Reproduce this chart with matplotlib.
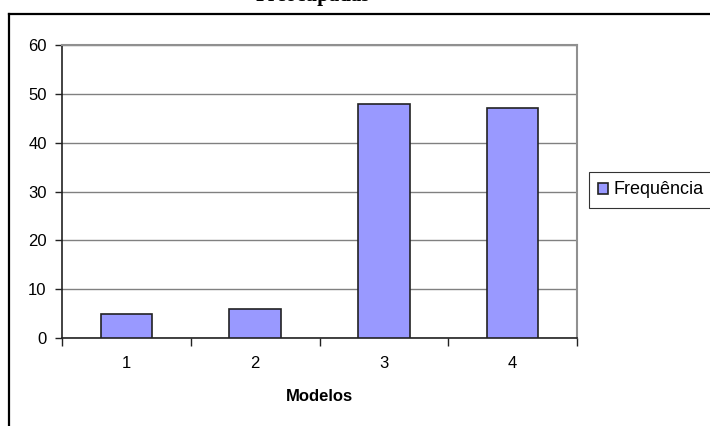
import matplotlib.pyplot as plt
from matplotlib.lines import Line2D

modelos = ['1', '2', '3', '4']
frequencia = [5, 6, 48, 47]
y_ticks = [0, 10, 20, 30, 40, 50, 60]

plt.rcParams['font.family'] = ['Liberation Sans', 'DejaVu Sans']

W, H = 710, 426
fig = plt.figure(figsize=(W / 100, H / 100), dpi=100)

# plot area in pixels: left 62, right 577, top 45, bottom 338
ax = fig.add_axes([62 / W, 1 - 338 / H, (577 - 62) / W, (338 - 45) / H])

x = range(len(modelos))
bars = ax.bar(x, frequencia, width=0.4, color='#9999FF', edgecolor='#222222',
              linewidth=1.2, label='Frequência', zorder=3)

ax.set_xlim(-0.5, len(modelos) - 0.5)
ax.set_ylim(0, 60)
ax.set_yticks(y_ticks)
ax.yaxis.grid(True, color='#808080', linewidth=1.0, zorder=0)

# category ticks sit between the bars, labels stay centred under them
ax.set_xticks([i + 0.5 for i in range(-1, len(modelos))])
ax.set_xticklabels([])
ax.set_xticks(list(x), minor=True)
ax.set_xticklabels(modelos, minor=True)
ax.tick_params(axis='x', which='major', direction='out', length=6, width=1,
               color='#222222')
ax.tick_params(axis='x', which='minor', length=0, pad=13, labelsize=12)
ax.tick_params(axis='y', direction='out', length=5, width=1, color='#222222',
               labelsize=12, pad=6)

for side in ['left', 'bottom']:
    ax.spines[side].set_color('#222222')
    ax.spines[side].set_linewidth(1.2)
for side in ['top', 'right']:
    ax.spines[side].set_color('#909090')
    ax.spines[side].set_linewidth(1.5)

ax.set_xlabel('Modelos', fontsize=12, fontweight='bold', labelpad=13)

leg = fig.legend(handles=[bars], loc='center left',
                 bbox_to_anchor=(589 / W, 1 - 190 / H), fontsize=13,
                 frameon=True, fancybox=False, edgecolor='black',
                 handlelength=0.55, handleheight=0.55, handletextpad=0.3,
                 borderpad=0.5, borderaxespad=0)
leg.get_frame().set_linewidth(0.8)

# outer chart border (top and left edges visible)
fig.add_artist(Line2D([9 / W, 1], [1 - 14 / H, 1 - 14 / H], color='black',
                      linewidth=1.6, transform=fig.transFigure))
fig.add_artist(Line2D([9 / W, 9 / W], [0, 1 - 14 / H], color='black',
                      linewidth=1.6, transform=fig.transFigure))

fig.text(313 / W, 1 - 1.5 / H, 'Preocupadas', ha='center', va='baseline',
         fontsize=15, fontweight='bold', family='Liberation Serif')

fig.savefig('out.png', dpi=100)
